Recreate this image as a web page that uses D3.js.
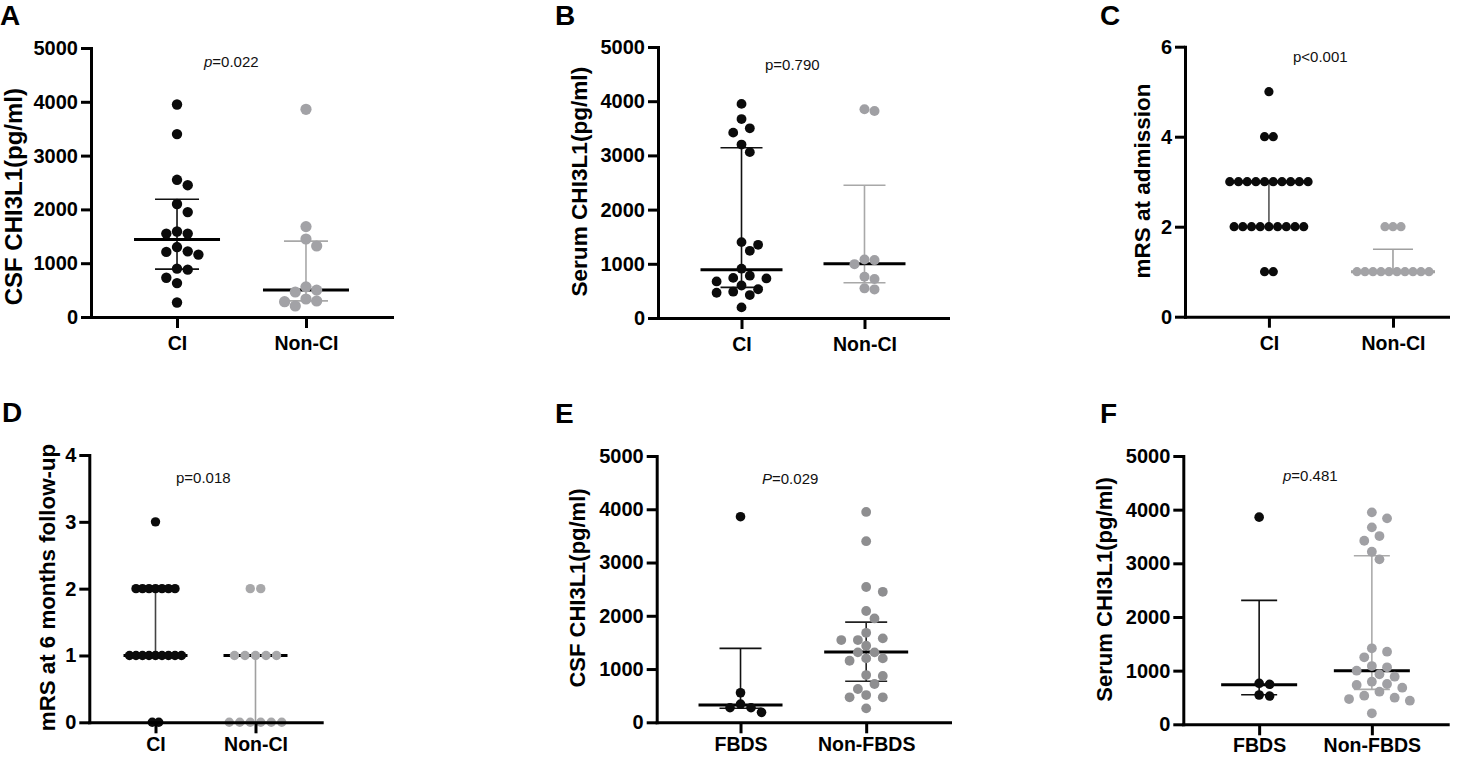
<!DOCTYPE html>
<html><head><meta charset="utf-8">
<script src="https://cdn.jsdelivr.net/npm/d3@7"></script>
<style>body{margin:0;background:#fff} svg{display:block} text{font-family:"Liberation Sans",Arial,sans-serif}</style>
</head><body><svg id="c" width="1477" height="757"></svg>
<script>
// ================= DATA =================
const panelLetters = ["A", "B", "C", "D", "E", "F"];
const yTitles = ["CSF CHI3L1(pg/ml)", "Serum CHI3L1(pg/ml)", "mRS at admission",
  "mRS at 6 months follow-up", "CSF CHI3L1(pg/ml)", "Serum CHI3L1(pg/ml)"];
const groupsCI = ["CI", "Non-CI"];
const groupsFBDS = ["FBDS", "Non-FBDS"];
const pSymbol = ["p", "p", "p", "p", "P", "p"];
const pItalic = [true, false, false, false, true, true];
const pRest = ["=0.022", "=0.790", "<0.001", "=0.018", "=0.029", "=0.481"];
const ticksCHI = [0, 1000, 2000, 3000, 4000, 5000];
const ticksAdm = [0, 2, 4, 6];
const ticksFU = [0, 1, 2, 3, 4];

// A: CSF CHI3L1 by cognitive impairment
const csfCI = [3950, 3400, 2550, 2450, 2100, 1950, 1590, 1550, 1550, 1300, 1220, 1210, 1160, 900, 880, 730, 630, 270];
const csfNonCI = [3860, 1680, 1450, 1320, 560, 500, 465, 335, 297, 285, 204];
// B: Serum CHI3L1 by cognitive impairment
const serumCI = [3950, 3670, 3500, 3420, 3200, 3060, 1400, 1350, 1240, 910, 780, 740, 730, 675, 600, 530, 485, 466, 423, 196];
const serumNonCI = [3850, 3820, 1080, 1068, 994, 760, 718, 547, 528];
// C: mRS at admission
const admCI = [5, 4, 4, 3, 3, 3, 3, 3, 3, 3, 3, 3, 3, 2, 2, 2, 2, 2, 2, 2, 2, 2, 1, 1];
const admNonCI = [2, 2, 2, 1, 1, 1, 1, 1, 1, 1, 1, 1, 1];
// D: mRS at 6 months follow-up
const fuCI = [3, 2, 2, 2, 2, 2, 2, 2, 1, 1, 1, 1, 1, 1, 1, 1, 1, 0, 0];
const fuNonCI = [2, 2, 1, 1, 1, 1, 1, 0, 0, 0, 0, 0, 0];
// E: CSF CHI3L1 by FBDS
const csfFBDS = [3860, 555, 343, 274, 274, 187];
const csfNonFBDS = [3950, 3400, 2540, 2450, 2090, 1950, 1680, 1576, 1544, 1544, 1437, 1313, 1313, 1200, 1200, 1156, 887, 869, 719, 625, 512, 469, 469, 262];
// F: Serum CHI3L1 by FBDS
const serumFBDS = [3860, 764, 745, 546, 527];
const serumNonFBDS = [3950, 3838, 3670, 3508, 3421, 3216, 3074, 1416, 1353, 1248, 1086, 1062, 999, 932, 887, 794, 751, 732, 682, 608, 533, 496, 471, 440, 205];

// median, lower (Q1), upper (Q3) as drawn
const statsCsfCI = [1440, 890, 2190], statsCsfNonCI = [500, 300, 1410];
const statsSerumCI = [890, 565, 3140], statsSerumNonCI = [1000, 650, 2450];
const statsAdmCI = [3, 2, 3], statsAdmNonCI = [1, 1, 1.5];
const statsFuCI = [1, 1, 2], statsFuNonCI = [1, 0, 1];
const statsCsfFBDS = [325, 265, 1388], statsCsfNonFBDS = [1320, 770, 1880];
const statsSerumFBDS = [735, 550, 2310], statsSerumNonFBDS = [1000, 650, 3140];

const panelData = [
  {cats: groupsCI, vals: [csfCI, csfNonCI], stats: [statsCsfCI, statsCsfNonCI], ticks: ticksCHI, discrete: false},
  {cats: groupsCI, vals: [serumCI, serumNonCI], stats: [statsSerumCI, statsSerumNonCI], ticks: ticksCHI, discrete: false},
  {cats: groupsCI, vals: [admCI, admNonCI], stats: [statsAdmCI, statsAdmNonCI], ticks: ticksAdm, discrete: true},
  {cats: groupsCI, vals: [fuCI, fuNonCI], stats: [statsFuCI, statsFuNonCI], ticks: ticksFU, discrete: true},
  {cats: groupsFBDS, vals: [csfFBDS, csfNonFBDS], stats: [statsCsfFBDS, statsCsfNonFBDS], ticks: ticksCHI, discrete: false},
  {cats: groupsFBDS, vals: [serumFBDS, serumNonFBDS], stats: [statsSerumFBDS, statsSerumNonFBDS], ticks: ticksCHI, discrete: false}
];

// ================= LAYOUT / STYLE =================
const layout = [
  {x0: 91, x1: 392, y0: 317, y1: 48, pad: 0.667, align: 0.5, letter: [0, 25], title: [22, 196.7, 24], p: [204, 66.7], xpad: 8,
   unit: [10.7, 10.7], minD: [10.3, 10.8], r: [5.2, 5.6], medW: 43, capW: 22,
   dot: ["#0b0b0b", "#a2a2a6"], bar: ["#111", "#a8a8a8"], med: ["#000", "#000"]},
  {x0: 658, x1: 948, y0: 318, y1: 47, pad: 0.679, align: 0.5, letter: [555, 25], title: [587, 181.7, 22.6], p: [765, 70], xpad: 8,
   unit: [8.3, 10], minD: [10, 10], r: [4.9, 5], medW: 41, capW: 21,
   dot: ["#0b0b0b", "#a0a0a4"], bar: ["#111", "#a8a8a8"], med: ["#000", "#000"]},
  {x0: 1185, x1: 1448, y0: 316.7, y1: 46.7, pad: 0.56, align: 0.604, letter: [1100, 25], title: [1150, 181, 22.5], p: [1293, 61.7], xpad: 8,
   spacing: [8.7, 8], r: [4.6, 4.6], medW: 42, capW: 20,
   dot: ["#0b0b0b", "#a3a3a6"], bar: ["#555", "#a0a0a0"], med: ["#000", "#a0a0a0"]},
  {x0: 89.3, x1: 321.7, y0: 722.3, y1: 455, pad: 0.662, align: 0.5, letter: [2, 422], title: [55, 587.5, 22.3], p: [176, 483], xpad: 4,
   spacing: [6.5, 10.5], r: [4.7, 4.7], medW: 32, capW: 16,
   dot: ["#0b0b0b", "#a8a8aa"], bar: ["#444", "#a0a0a0"], med: ["#000", "#000"]},
  {x0: 656.7, x1: 950, y0: 722.3, y1: 456, pad: 0.667, align: 0.5, letter: [555, 423], title: [585, 588, 22], p: [762, 484], xpad: 4,
   unit: [10.5, 8.3], minD: [10, 10], r: [4.8, 4.9], medW: 42, capW: 21,
   dot: ["#0b0b0b", "#8e8e90"], bar: ["#111", "#222"], med: ["#000", "#000"]},
  {x0: 1183.3, x1: 1447.7, y0: 724.3, y1: 456, pad: 0.673, align: 0.5, letter: [1100, 423], title: [1112, 589.5, 22.1], p: [1283, 481], xpad: 2.5,
   unit: [10.5, 7.6], minD: [10, 10], r: [4.8, 4.9], medW: 38, capW: 18,
   dot: ["#0b0b0b", "#a0a0a4"], bar: ["#111", "#ababab"], med: ["#000", "#000"]}
];

const FS_TICK = 20, FS_XLAB = 19.5, FS_P = 15, FS_LETTER = 28;

// ================= DRAW =================
const svg = d3.select("#c");

function swarm(vals, y, unit, minD) {
  const placed = [];
  vals.forEach(v => {
    const py = y(v);
    for (let k = 0; k < 60; k++) {
      const m = Math.ceil(k / 2) * (k % 2 === 1 ? 1 : -1);
      const off = m * unit;
      const hit = placed.some(p => (p.off - off) ** 2 + (p.y - py) ** 2 < minD * minD);
      if (!hit) { placed.push({v, off, y: py}); break; }
    }
  });
  return placed;
}
function rows(vals, y, spacing) {
  const counts = d3.rollup(vals, g => g.length, d => d);
  const seen = new Map();
  return vals.map(v => {
    const n = counts.get(v);
    const i = seen.get(v) || 0; seen.set(v, i + 1);
    return {v, off: (i - (n - 1) / 2) * spacing, y: y(v)};
  });
}

panelData.forEach((pd, pi) => {
  const L = layout[pi];
  const g = svg.append("g");
  const ymax = d3.max(pd.ticks);
  const y = d3.scaleLinear().domain([0, ymax]).range([L.y0, L.y1]);
  const x = d3.scalePoint().domain(pd.cats).range([L.x0, L.x1]).padding(L.pad).align(L.align);

  // panel letter
  g.append("text").attr("x", L.letter[0]).attr("y", L.letter[1])
    .attr("font-size", FS_LETTER).attr("font-weight", "bold").text(panelLetters[pi]);

  // y title
  g.append("text").attr("transform", `translate(${L.title[0]},${L.title[1]}) rotate(-90)`)
    .attr("text-anchor", "middle").attr("font-size", L.title[2]).attr("font-weight", "bold")
    .text(yTitles[pi]);

  // p value
  const pt = g.append("text").attr("x", L.p[0]).attr("y", L.p[1]).attr("font-size", FS_P).attr("fill", "#111");
  pt.append("tspan").attr("font-style", pItalic[pi] ? "italic" : "normal").text(pSymbol[pi]);
  pt.append("tspan").text(pRest[pi]);

  // error bars + medians
  pd.cats.forEach((c, gi) => {
    const [med, lo, hi] = pd.stats[gi];
    const cx = x(c);
    const eb = g.append("g").attr("stroke", L.bar[gi]).attr("stroke-width", 1.6).attr("fill", "none");
    eb.append("line").attr("x1", cx).attr("x2", cx).attr("y1", y(lo)).attr("y2", y(hi));
    [lo, hi].forEach(v => eb.append("line").attr("x1", cx - L.capW).attr("x2", cx + L.capW).attr("y1", y(v)).attr("y2", y(v)));
    g.append("line").attr("x1", cx - L.medW).attr("x2", cx + L.medW).attr("y1", y(med)).attr("y2", y(med))
      .attr("stroke", L.med[gi]).attr("stroke-width", 3);
  });

  // dots
  pd.cats.forEach((c, gi) => {
    const pts = pd.discrete ? rows(pd.vals[gi], y, L.spacing[gi]) : swarm(pd.vals[gi], y, L.unit[gi], L.minD[gi]);
    g.append("g").selectAll("circle").data(pts).join("circle")
      .attr("cx", d => x(c) + d.off).attr("cy", d => d.y).attr("r", L.r[gi]).attr("fill", L.dot[gi]);
  });

  // axes
  const ya = g.append("g").attr("transform", `translate(${L.x0},0)`)
    .call(d3.axisLeft(y).tickValues(pd.ticks).tickSize(10).tickSizeOuter(0).tickPadding(3).tickFormat(d3.format("d")));
  const xa = g.append("g").attr("transform", `translate(0,${L.y0})`)
    .call(d3.axisBottom(x).tickSize(11).tickSizeOuter(0).tickPadding(L.xpad));
  [ya, xa].forEach(a => {
    a.selectAll("path.domain").attr("stroke", "#000").attr("stroke-width", 3).attr("stroke-linecap", "square");
    a.selectAll(".tick line").attr("stroke", "#000").attr("stroke-width", 3);
    a.selectAll(".tick text").attr("fill", "#000").attr("font-weight", "bold")
      .attr("font-family", '"Liberation Sans",Arial,sans-serif');
  });
  ya.selectAll(".tick text").attr("font-size", FS_TICK);
  xa.selectAll(".tick text").attr("font-size", FS_XLAB);
});
</script></body></html>
